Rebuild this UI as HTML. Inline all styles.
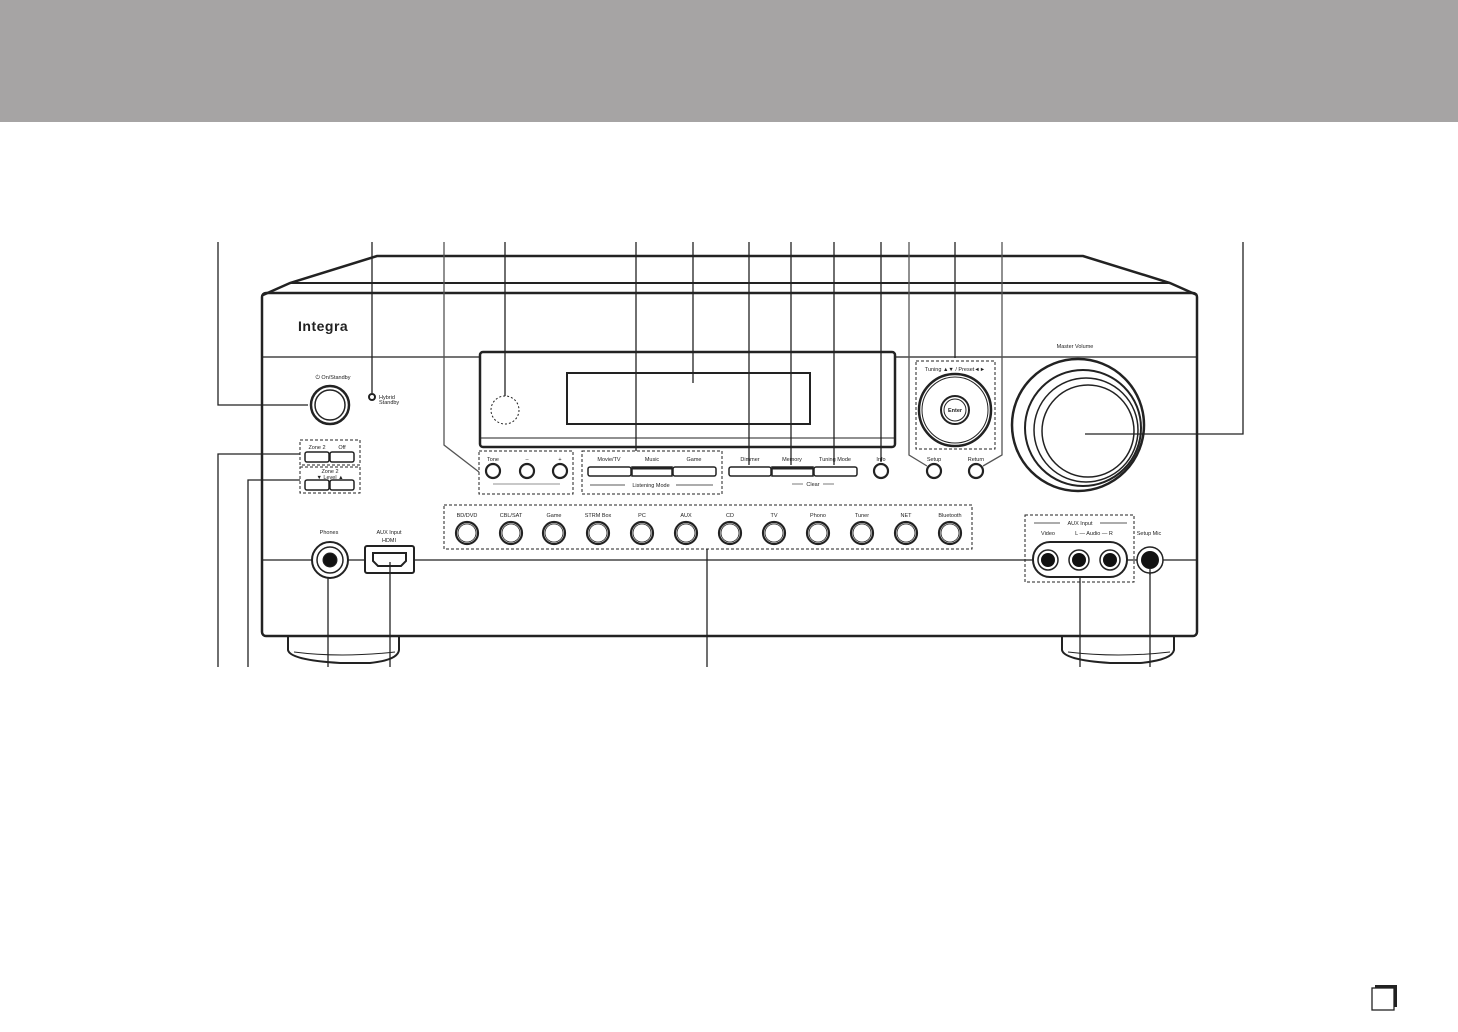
<!DOCTYPE html>
<html><head><meta charset="utf-8"><style>
html,body{margin:0;padding:0;background:#fff;}
svg{display:block;}
text{font-family:"Liberation Sans",sans-serif;fill:#222;}
</style></head><body>
<svg width="1458" height="1032" viewBox="0 0 1458 1032" xmlns="http://www.w3.org/2000/svg">
<rect x="0" y="0" width="1458" height="122" fill="#a6a4a4"/>

<g fill="none" stroke="#222">
<path d="M263,295 L290,283 L377,256 L1083,256 L1170,283 L1197,295" stroke-width="2.5"/>
<line x1="290" y1="283" x2="1170" y2="283" stroke-width="2"/>
<rect x="262" y="293" width="935" height="343" rx="4" stroke-width="2.5"/>
<line x1="262" y1="357" x2="1197" y2="357" stroke-width="1.3"/>
<path d="M288,636 L288,650 Q290,660 340,663 L370,663 Q398,660 399,650 L399,636" stroke-width="2"/>
<path d="M294,652 Q340,658 395,652" stroke-width="1"/>
<path d="M1062,636 L1062,650 Q1064,660 1110,663 L1140,663 Q1172,660 1174,650 L1174,636" stroke-width="2"/>
<path d="M1068,652 Q1118,658 1170,652" stroke-width="1"/>

<rect x="480" y="352" width="415" height="95" rx="3" fill="#fff" stroke-width="2.5"/>
<line x1="480" y1="438" x2="895" y2="438" stroke-width="1"/>
<rect x="567" y="373" width="243" height="51" stroke-width="2"/>
<circle cx="505" cy="410" r="14" stroke-width="1" stroke-dasharray="2,2"/>

<line x1="262" y1="560" x2="1197" y2="560" stroke-width="1.2"/>

<g stroke-width="1.3">
<path d="M218,242 L218,405 L308,405"/>
<line x1="372" y1="242" x2="372" y2="393"/>
<path d="M444,242 L444,445 L479,472" stroke="#555"/>
<line x1="505" y1="242" x2="505" y2="396"/>
<line x1="636" y1="242" x2="636" y2="451"/>
<line x1="693" y1="242" x2="693" y2="383"/>
<line x1="749" y1="242" x2="749" y2="465"/>
<line x1="791" y1="242" x2="791" y2="465"/>
<line x1="834" y1="242" x2="834" y2="465"/>
<line x1="881" y1="242" x2="881" y2="462"/>
<path d="M909,242 L909,455 L927,466" stroke="#555"/>
<line x1="955" y1="242" x2="955" y2="358"/>
<path d="M1002,242 L1002,455 L983,466" stroke="#555"/>
<path d="M1243,242 L1243,434 L1085,434"/>
<path d="M218,667 L218,454 L300,454"/>
<path d="M248,667 L248,480 L300,480"/>
<line x1="328" y1="667" x2="328" y2="578"/>
<line x1="390" y1="667" x2="390" y2="562"/>
<line x1="707" y1="667" x2="707" y2="549"/>
<line x1="1080" y1="667" x2="1080" y2="582"/>
<line x1="1150" y1="667" x2="1150" y2="568"/>
</g>

<circle cx="330" cy="405" r="19" stroke-width="2.5" fill="#fff"/>
<circle cx="330" cy="405" r="15" stroke-width="1.5"/>
<circle cx="372" cy="397" r="3" stroke-width="2" fill="#fff"/>

<g stroke-dasharray="3,2" stroke-width="1">
<rect x="300" y="440" width="60" height="25"/>
<rect x="300" y="467" width="60" height="26"/>
<rect x="479" y="451" width="94" height="43"/>
<rect x="582" y="451" width="140" height="43"/>
<rect x="444" y="505" width="528" height="44"/>
<rect x="916" y="361" width="79" height="88"/>
<rect x="1025" y="515" width="109" height="67"/>
</g>
<g stroke-width="1.5" fill="#fff">
<rect x="305" y="452" width="24" height="10" rx="2"/><rect x="330" y="452" width="24" height="10" rx="2"/>
<rect x="305" y="480" width="24" height="10" rx="2"/><rect x="330" y="480" width="24" height="10" rx="2"/>
<rect x="588" y="467" width="43" height="9" rx="2"/><rect x="632" y="467" width="40" height="9"/><rect x="673" y="467" width="43" height="9" rx="2"/>
<rect x="729" y="467" width="42" height="9" rx="2"/><rect x="772" y="467" width="41" height="9"/><rect x="814" y="467" width="43" height="9" rx="2"/>
</g>
<line x1="632" y1="468" x2="672" y2="468" stroke-width="3"/>
<line x1="772" y1="468" x2="813" y2="468" stroke-width="3"/>
<line x1="493" y1="484" x2="560" y2="484" stroke-width="0.6"/>
<line x1="590" y1="485" x2="625" y2="485" stroke-width="0.8"/>
<line x1="676" y1="485" x2="713" y2="485" stroke-width="0.8"/>
<line x1="792" y1="484" x2="803" y2="484" stroke-width="0.6"/>
<line x1="823" y1="484" x2="834" y2="484" stroke-width="0.6"/>

<g stroke-width="2.2" fill="#fff">
<circle cx="493" cy="471" r="7"/><circle cx="527" cy="471" r="7"/><circle cx="560" cy="471" r="7"/>
<circle cx="881" cy="471" r="7"/><circle cx="934" cy="471" r="7"/><circle cx="976" cy="471" r="7"/>
</g>

<circle cx="955" cy="410" r="36" stroke-width="2.5"/>
<circle cx="955" cy="410" r="33" stroke-width="1"/>
<circle cx="955" cy="410" r="14" stroke-width="2"/>
<circle cx="955" cy="410" r="11" stroke-width="1"/>

<circle cx="1078" cy="425" r="66" stroke-width="2.5"/>
<circle cx="1083" cy="428" r="58" stroke-width="2"/>
<circle cx="1086" cy="430" r="52" stroke-width="1.5"/>
<circle cx="1088" cy="431" r="46" stroke-width="1.5"/>

<g stroke-width="2.2" fill="#fff">
<circle cx="467" cy="533" r="11"/><circle cx="511" cy="533" r="11"/><circle cx="554" cy="533" r="11"/>
<circle cx="598" cy="533" r="11"/><circle cx="642" cy="533" r="11"/><circle cx="686" cy="533" r="11"/>
<circle cx="730" cy="533" r="11"/><circle cx="774" cy="533" r="11"/><circle cx="818" cy="533" r="11"/>
<circle cx="862" cy="533" r="11"/><circle cx="906" cy="533" r="11"/><circle cx="950" cy="533" r="11"/>
</g>
<g stroke-width="0.8">
<circle cx="467" cy="533" r="9"/><circle cx="511" cy="533" r="9"/><circle cx="554" cy="533" r="9"/>
<circle cx="598" cy="533" r="9"/><circle cx="642" cy="533" r="9"/><circle cx="686" cy="533" r="9"/>
<circle cx="730" cy="533" r="9"/><circle cx="774" cy="533" r="9"/><circle cx="818" cy="533" r="9"/>
<circle cx="862" cy="533" r="9"/><circle cx="906" cy="533" r="9"/><circle cx="950" cy="533" r="9"/>
</g>

<circle cx="330" cy="560" r="18" stroke-width="2" fill="#fff"/>
<circle cx="330" cy="560" r="13" stroke-width="1.5"/>
<circle cx="330" cy="560" r="7" fill="#111"/>
<rect x="365" y="546" width="49" height="27" rx="2" stroke-width="2" fill="#fff"/>
<path d="M373,553 L406,553 L406,561 L401,566 L378,566 L373,561 Z" stroke-width="2"/>
<line x1="390" y1="562" x2="390" y2="573" stroke-width="1.3"/>

<rect x="1033" y="542" width="94" height="35" rx="17" stroke-width="2" fill="#fff"/>
<g stroke-width="1.5" fill="#fff">
<circle cx="1048" cy="560" r="10"/><circle cx="1079" cy="560" r="10"/><circle cx="1110" cy="560" r="10"/>
</g>
<circle cx="1048" cy="560" r="7" fill="#111" stroke="none"/>
<circle cx="1079" cy="560" r="7" fill="#111" stroke="none"/>
<circle cx="1110" cy="560" r="7" fill="#111" stroke="none"/>
<line x1="1080" y1="577" x2="1080" y2="582" stroke-width="1.3"/>
<circle cx="1150" cy="560" r="13" stroke-width="1.5" fill="#fff"/>
<circle cx="1150" cy="560" r="9" fill="#111" stroke="none"/>
<line x1="1150" y1="568" x2="1150" y2="575" stroke-width="1.3"/>
<line x1="1034" y1="523" x2="1060" y2="523" stroke-width="0.8"/>
<line x1="1100" y1="523" x2="1127" y2="523" stroke-width="0.8"/>

<rect x="1375" y="985" width="22" height="22" fill="#222" stroke="none"/>
<rect x="1372" y="988" width="22" height="22" fill="#fff" stroke-width="1.3"/>
</g>

<text x="298" y="331" font-size="14" font-weight="bold" fill="#333" style="letter-spacing:0.5px">Integra</text>
<g font-size="5.5" text-anchor="middle">
<text x="333" y="379">⏻ On/Standby</text>
<text x="317" y="449">Zone 2</text><text x="342" y="449">Off</text>
<text x="330" y="473">Zone 2</text><text x="330" y="479">▼  Level  ▲</text>
<text x="493" y="461">Tone</text><text x="527" y="461">–</text><text x="560" y="461">+</text>
<text x="609" y="461">Movie/TV</text><text x="652" y="461">Music</text><text x="694" y="461">Game</text>
<text x="651" y="487">Listening Mode</text>
<text x="750" y="461">Dimmer</text><text x="792" y="461">Memory</text><text x="835" y="461">Tuning Mode</text>
<text x="813" y="486">Clear</text>
<text x="881" y="461">Info</text><text x="934" y="461">Setup</text><text x="976" y="461">Return</text>
<text x="955" y="371">Tuning ▲▼ / Preset◄►</text>
<text x="955" y="412" font-weight="bold">Enter</text>
<text x="1075" y="348">Master Volume</text>
<text x="467" y="517">BD/DVD</text><text x="511" y="517">CBL/SAT</text><text x="554" y="517">Game</text>
<text x="598" y="517">STRM Box</text><text x="642" y="517">PC</text><text x="686" y="517">AUX</text>
<text x="730" y="517">CD</text><text x="774" y="517">TV</text><text x="818" y="517">Phono</text>
<text x="862" y="517">Tuner</text><text x="906" y="517">NET</text><text x="950" y="517">Bluetooth</text>
<text x="329" y="534">Phones</text>
<text x="389" y="534">AUX Input</text><text x="389" y="542">HDMI</text>
<text x="1080" y="525">AUX Input</text>
<text x="1048" y="535">Video</text><text x="1094" y="535">L — Audio — R</text>
<text x="1149" y="535">Setup Mic</text>
</g>
<g font-size="5.5"><text x="379" y="399">Hybrid</text><text x="379" y="404">Standby</text></g>
</svg>
</body></html>
